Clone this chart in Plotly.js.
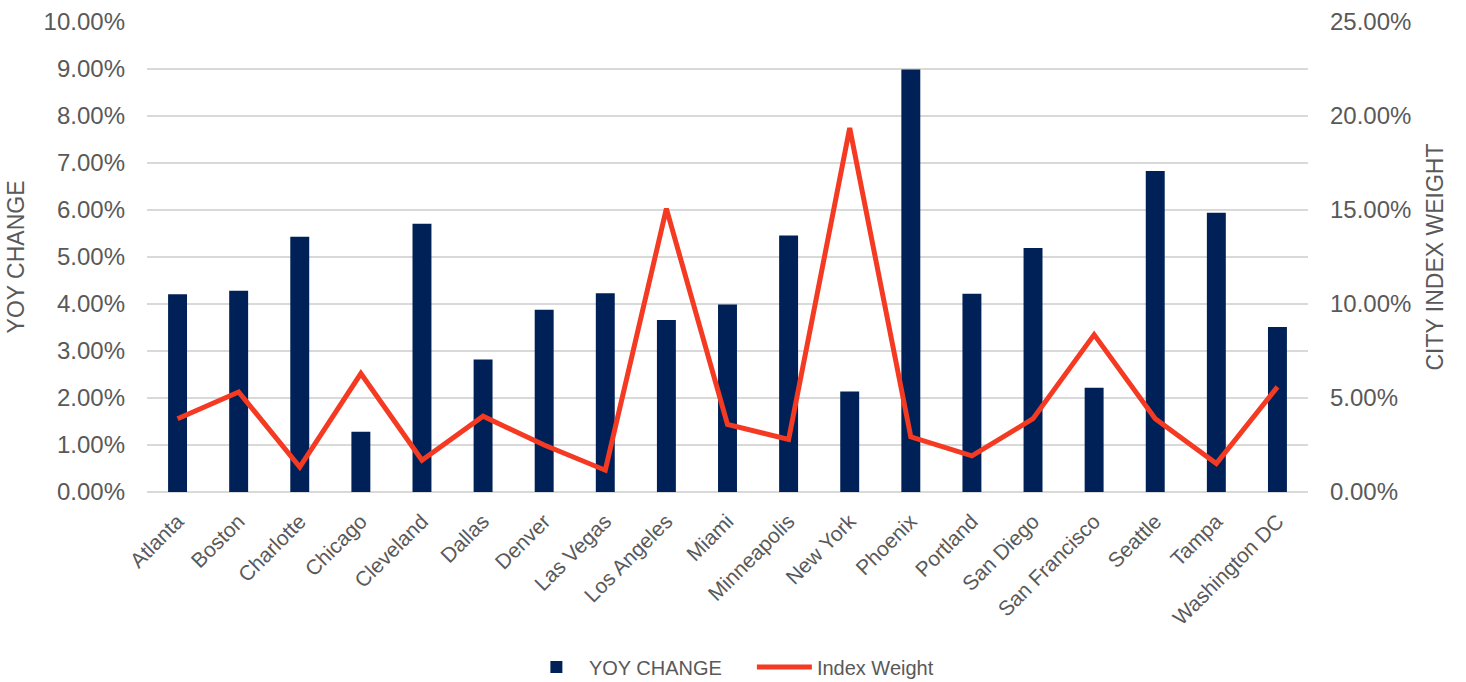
<!DOCTYPE html>
<html>
<head>
<meta charset="utf-8">
<script src="https://cdn.plot.ly/plotly-3.0.1.min.js"></script>
<style>html,body{margin:0;padding:0;background:#fff;}#chart{width:1466px;height:682px;}</style>
</head>
<body>
<div id="chart"></div>
<script>
const cities = ["Atlanta","Boston","Charlotte","Chicago","Cleveland","Dallas","Denver","Las Vegas","Los Angeles","Miami","Minneapolis","New York","Phoenix","Portland","San Diego","San Francisco","Seattle","Tampa","Washington DC"];
const yoyChange = [0.0421,0.0428,0.0543,0.0128,0.0571,0.0282,0.0388,0.0423,0.0366,0.0399,0.0546,0.0214,0.0899,0.0422,0.0519,0.0222,0.0683,0.0594,0.0351];
const indexWeight = [0.0390,0.0532,0.0133,0.0630,0.0169,0.0403,0.0250,0.0116,0.1507,0.0360,0.0279,0.1936,0.0293,0.0192,0.0390,0.0837,0.0390,0.0151,0.0559];
const leftTicks = [0,0.01,0.02,0.03,0.04,0.05,0.06,0.07,0.08,0.09,0.10];
const rightTicks = [0,0.05,0.10,0.15,0.20,0.25];

const FONT = "Liberation Sans, Arial, sans-serif";
const GREY = "#595959";

const traces = [
  {type:"bar", name:"YOY CHANGE", x:cities, y:yoyChange, marker:{color:"#002157"}, yaxis:"y"},
  {type:"scatter", mode:"lines", name:"Index Weight", x:cities, y:indexWeight, line:{color:"#F43A22", width:5}, yaxis:"y2"}
];

const layout = {
  width:1466, height:682,
  margin:{l:147, r:158, t:22, b:190, autoexpand:false},
  paper_bgcolor:"#fff", plot_bgcolor:"#fff",
  font:{family:FONT, color:GREY},
  bargap:0.69,
  showlegend:true,
  legend:{orientation:"h", xref:"paper", x:0.521, xanchor:"center", yref:"container", y:0.022, yanchor:"middle",
          font:{size:20, color:GREY}, itemwidth:55, entrywidth:158},
  xaxis:{tickangle:-45, tickfont:{size:21, color:GREY}, showgrid:false, showline:false, ticks:"", automargin:false, ticklabelstandoff:12},
  yaxis:{range:[0,0.10], tickvals:leftTicks, tickformat:".2%", tickfont:{size:24, color:GREY},
         gridcolor:"#D9D9D9", gridwidth:1.5, zeroline:true, zerolinecolor:"#D9D9D9", zerolinewidth:1.5,
         showline:false, ticks:"", ticklabelstandoff:21, automargin:false,
         title:{text:"YOY CHANGE", font:{size:23, color:GREY}, standoff:12}},
  yaxis2:{range:[0,0.25], tickvals:rightTicks, tickformat:".2%", overlaying:"y", side:"right",
          tickfont:{size:24, color:GREY}, showgrid:false, zeroline:false, showline:false, ticks:"",
          ticklabelstandoff:21, automargin:false,
          title:{text:"CITY INDEX WEIGHT", font:{size:23, color:GREY}, standoff:16}}
};

Plotly.newPlot("chart", traces, layout, {displayModeBar:false, staticPlot:true});
</script>
</body>
</html>
